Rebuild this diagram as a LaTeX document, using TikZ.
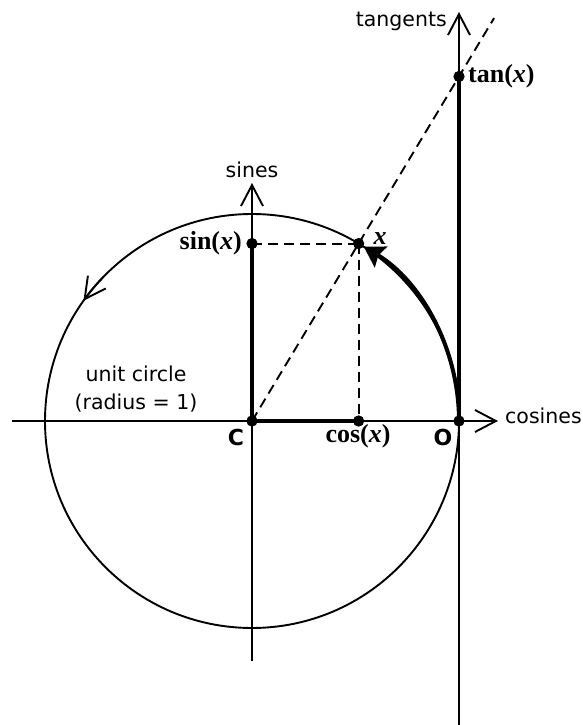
\documentclass[tikz,border=0pt]{standalone}
\usepackage{fontspec}
\setmainfont{Liberation Serif}
\setsansfont{DejaVu Sans}
\usetikzlibrary{arrows.meta}
\begin{document}
\begin{tikzpicture}[x=1pt,y=1pt,
  axisline/.style={line width=1.9pt},
  boldline/.style={line width=4pt},
  dashline/.style={line width=1.9pt,dash pattern=on 10pt off 6pt},
  openarrow/.style={-{Straight Barb[length=21pt,width=22pt,line width=1.9pt]}},
  dot/.style={circle,fill=black,inner sep=0pt,minimum size=11pt},
  sanslabel/.style={font=\fontsize{20.5}{24}\sffamily,inner sep=0pt},
  pointlabel/.style={font=\fontsize{22}{26}\sffamily\bfseries,inner sep=0pt},
  seriflabel/.style={font=\fontsize{26}{30}\rmfamily\bfseries,inner sep=0pt}
]
\useasboundingbox (-252,-304) rectangle (330,421);

% points
\node[dot] (C) at (0,0) {};
\node[dot] (O) at (207,0) {};
\node[dot] (X) at (59:207) {};
\node[dot] (Cs) at (X |- C) {};
\node[dot] (Sn) at (X -| C) {};
\node[dot] (T) at (207,{207*tan(59)}) {};

% axis ends
\coordinate (hL) at (-240,0);
\coordinate (hR) at (246,0);
\coordinate (sB) at (0,-240);
\coordinate (sT) at (0,238);
\coordinate (tB) at (207,-304);
\coordinate (tT) at (207,409);
\coordinate (dEnd) at (59:470);

% unit circle
\draw[axisline] (C.center) circle (207);
\draw[axisline,openarrow] (C.center) ++(136:207) arc (136:144.5:207);

% axes
\draw[axisline,openarrow] (hL) -- (hR);
\draw[axisline,openarrow] (sB) -- (sT);
\draw[axisline,openarrow] (tB) -- (tT);

% dashed lines
\draw[dashline] (C.center) -- (dEnd);
\draw[dashline] (Sn.center) -- (X.center);
\draw[dashline] (X.center) -- (Cs.center);

% bold segments
\draw[boldline] (C.center) -- (Cs.center);
\draw[boldline] (C.center) -- (Sn.center);
\draw[boldline] (O.center) -- (T.center);
\draw[boldline,-{Stealth[length=20pt,width=24pt,inset=3pt]},shorten >=6pt] (O.center) arc (0:59:207);

% redraw dots on top
\foreach \p in {C,O,X,Cs,Sn,T} \fill (\p) circle (5.5);

% labels
\node[sanslabel,anchor=base] (lsines) at (0,243) {sines};
\node[sanslabel,anchor=mid west] (lcos) at (253,0) {cosines};
\node[sanslabel,anchor=base east] (ltan) at (195,394) {tangents};
\node[sanslabel,anchor=base] (lunit1) at (-116,39) {unit circle};
\node[sanslabel,anchor=base] (lunit2) at (-116,11) {(radius = 1)};
\node[pointlabel,anchor=base] (lC) at (-16,-24) {C};
\node[pointlabel,anchor=base] (lO) at (191,-24) {O};
\node[seriflabel,anchor=base] (lcosx) at (106,-21) {cos(\textit{x})};
\node[seriflabel,anchor=base east] (lsinx) at (-10,171) {sin(\textit{x})};
\node[seriflabel,anchor=base] (lx) at (128,176) {\textit{x}};
\node[seriflabel,anchor=base west] (ltanx) at (216,338) {tan(\textit{x})};
\end{tikzpicture}
\end{document}
